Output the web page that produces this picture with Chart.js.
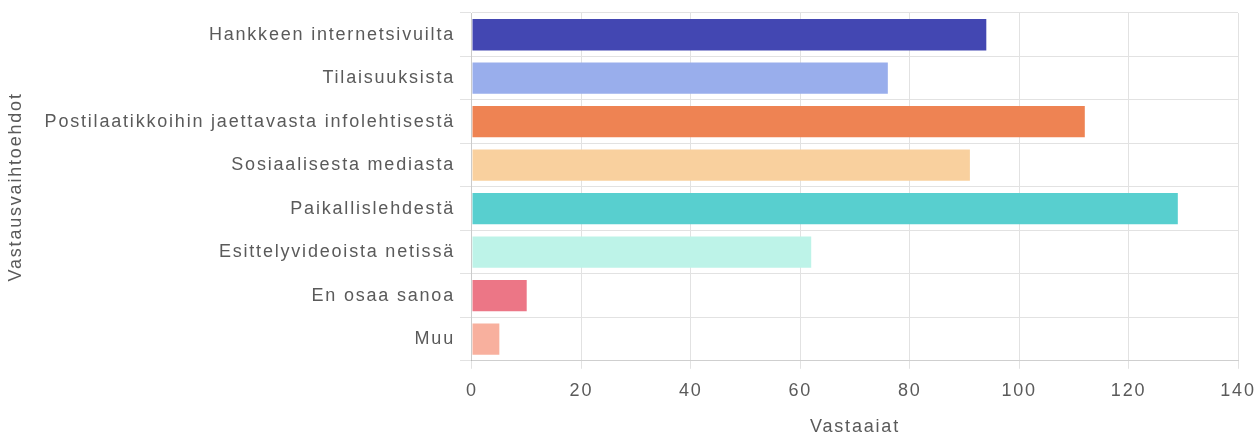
<!DOCTYPE html>
<html>
<head>
<meta charset="utf-8">
<script src="https://cdn.jsdelivr.net/npm/chart.js@4"></script>
<style>
  html, body { margin: 0; padding: 0; background: #fff; overflow: hidden; }
  #wrap { width: 1257px; height: 432px; }
</style>
</head>
<body>
<div id="wrap"><canvas id="vastaukset-chart"></canvas></div>
<script>
const categories = [
    'Hankkeen internetsivuilta',
    'Tilaisuuksista',
    'Postilaatikkoihin jaettavasta infolehtisestä',
    'Sosiaalisesta mediasta',
    'Paikallislehdestä',
    'Esittelyvideoista netissä',
    'En osaa sanoa',
    'Muu'
];
const respondents = [94, 76, 112, 91, 129, 62, 10, 5];
const xTicks = [0, 20, 40, 60, 80, 100, 120, 140];
const barColors = ['#4347b2', '#99aeec', '#ee8353', '#f9d09e', '#58cfcf', '#bdf3e8', '#ec7686', '#f8b09e'];

const VastauksetChart = document.getElementById('vastaukset-chart');

Chart.defaults.font.family = '"Liberation Sans", Arial, sans-serif';
Chart.defaults.color = '#5a5a5a';

//wider letter spacing like the original
const spacingPlugin = {
    id: 'spacing',
    beforeUpdate: function (chart) { chart.ctx.letterSpacing = '1.8px'; },
    beforeDraw: function (chart) { chart.ctx.letterSpacing = '1.8px'; }
};

new Chart(VastauksetChart, {
    type: 'bar',
    data: {
        labels: categories,
        datasets: [{
            label: 'Vastaajat',
            data: respondents,
            backgroundColor: barColors
        }]
    },
    options: {
        indexAxis: 'y',
        responsive: true,
        maintainAspectRatio: false,
        animation: false,
        layout: { padding: { top: 13, right: 0, left: 3, bottom: 0 } },
        plugins: {
            legend: { display: false },
            tooltip: { enabled: false }
        },
        scales: {
            x: {
                min: xTicks[0],
                max: xTicks[xTicks.length - 1],
                afterBuildTicks: function (axis) { axis.ticks = xTicks.map(v => ({ value: v })); },
                afterFit: function (axis) { axis.paddingRight = 19; },
                ticks: { font: { size: 18 }, padding: 11 },
                grid: { color: '#e2e2e2' },
                border: { color: '#cfcfcf' },
                title: { display: true, text: 'Vastaajat', font: { size: 18 }, padding: { top: 4, bottom: -6 } }
            },
            y: {
                afterFit: function (axis) { axis.paddingTop = 0; axis.paddingBottom = 0; },
                ticks: { font: { size: 18 }, padding: 5 },
                grid: { color: '#e2e2e2', tickLength: 12 },
                title: { display: true, text: 'Vastausvaihtoehdot', font: { size: 18 }, padding: { top: 2, bottom: 13 } }
            }
        }
    },
    plugins: [spacingPlugin]
});
</script>
</body>
</html>
